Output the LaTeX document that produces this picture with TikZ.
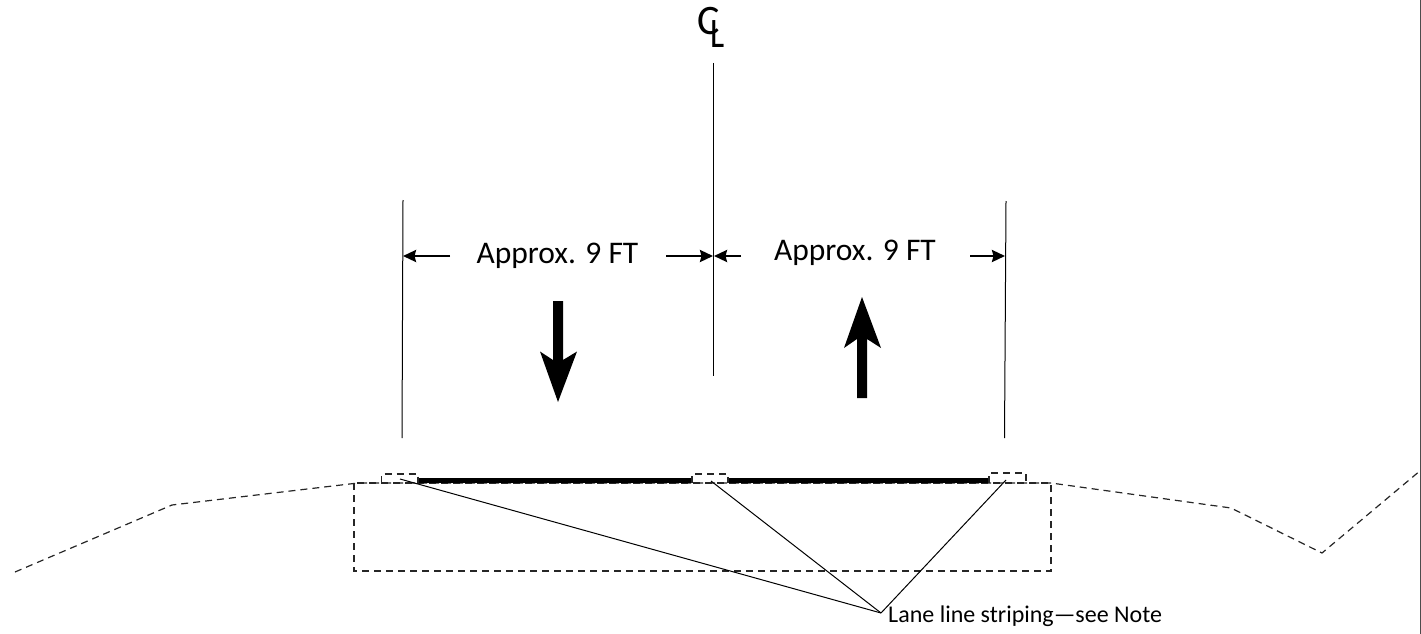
\documentclass[tikz,border=0pt]{standalone}
\usepackage{fontspec}
\setmainfont{Carlito}
\usetikzlibrary{arrows.meta}
\tikzset{
  thinline/.style={draw=black,line width=1pt},
  dashline/.style={draw=black!85,line width=1.2pt,dash pattern=on 7pt off 5pt},
  stripe/.style={fill=black,draw=none},
  dimline/.style={draw=black,line width=2.4pt,-{Stealth[length=13pt,width=12pt,inset=1.5pt]}},
  biglabel/.style={inner sep=0pt,font=\fontsize{31.5}{34}\selectfont,text=black},
  smalllabel/.style={inner sep=0pt,font=\fontsize{24}{27}\selectfont,text=black,anchor=west},
  bigarrow/.style={fill=black,draw=none},
  clglyph/.style={inner sep=0pt,font=\fontsize{42}{44}\selectfont,text=black}
}
\begin{document}
\begin{tikzpicture}[x=1pt,y=-1pt]
\useasboundingbox (0,0) rectangle (1421,634);
% centre line and offsets
\coordinate (cTop) at (713.5,63);
\coordinate (cBot) at (713.5,376);
\coordinate (lTop) at (403,200);
\coordinate (lBot) at (402,438);
\coordinate (rTop) at (1006,201);
\coordinate (rBot) at (1004.5,438);
\draw[thinline] (cTop) -- (cBot);
\draw[thinline] (lTop) -- (lBot);
\draw[thinline] (rTop) -- (rBot);
\node[clglyph] (clC) at (709,21.5) {C};
\node[clglyph,xscale=0.8] (clL) at (718,34.5) {L};
% dimensions
\coordinate (d1a) at (450,256);
\coordinate (d1b) at (403,256);
\coordinate (d2a) at (666,256);
\coordinate (d2b) at (713,256);
\coordinate (d3a) at (741,256);
\coordinate (d3b) at (714,256);
\coordinate (d4a) at (970,256);
\coordinate (d4b) at (1005,256);
\draw[dimline] (d1a) -- (d1b);
\draw[dimline] (d2a) -- (d2b);
\draw[dimline] (d3a) -- (d3b);
\draw[dimline] (d4a) -- (d4b);
\node[biglabel] (lblL) at (557.5,256) {Approx. 9 FT};
\node[biglabel] (lblR) at (855,253) {Approx. 9 FT};
% direction arrows
\fill[bigarrow] (553,301) -- (563,301) -- (563,360) -- (577,351.5) -- (558,402) -- (540,351.5) -- (553,360) -- cycle;
\fill[bigarrow] (857,398) -- (867,398) -- (867,339) -- (881,348) -- (862,297) -- (844,348) -- (857,339) -- cycle;
% ground profile
\draw[dashline] (15,572) -- (172,505) -- (358,483) -- (1051,483) -- (1231,508) -- (1322,553) -- (1421,470);
\draw[dashline] (354,483) rectangle (1051,571);
% stripes
\fill[stripe] (418,478) rectangle (692,483);
\fill[stripe] (728,478) rectangle (988,483);
\draw[dashline] (381.5,483) -- (381.5,474) -- (418,474) -- (418,483);
\draw[dashline] (692,483) -- (692,474) -- (728,474) -- (728,483);
\draw[dashline] (989,483) -- (989,473) -- (1026,473) -- (1026,483);
% leaders
\coordinate (leadEnd) at (881,613);
\coordinate (s1) at (400,479);
\coordinate (s2) at (711,481);
\coordinate (s3) at (1006,480);
\draw[thinline] (s1) -- (leadEnd);
\draw[thinline] (s2) -- (leadEnd);
\draw[thinline] (s3) -- (leadEnd);
\node[smalllabel] (note) at (888,616) {Lane line striping—see Note};
% right edge rule
\coordinate (eTop) at (1420,0);
\coordinate (eBot) at (1420,634);
\draw[draw=black!70,line width=1pt] (eTop) -- (eBot);
\end{tikzpicture}
\end{document}
